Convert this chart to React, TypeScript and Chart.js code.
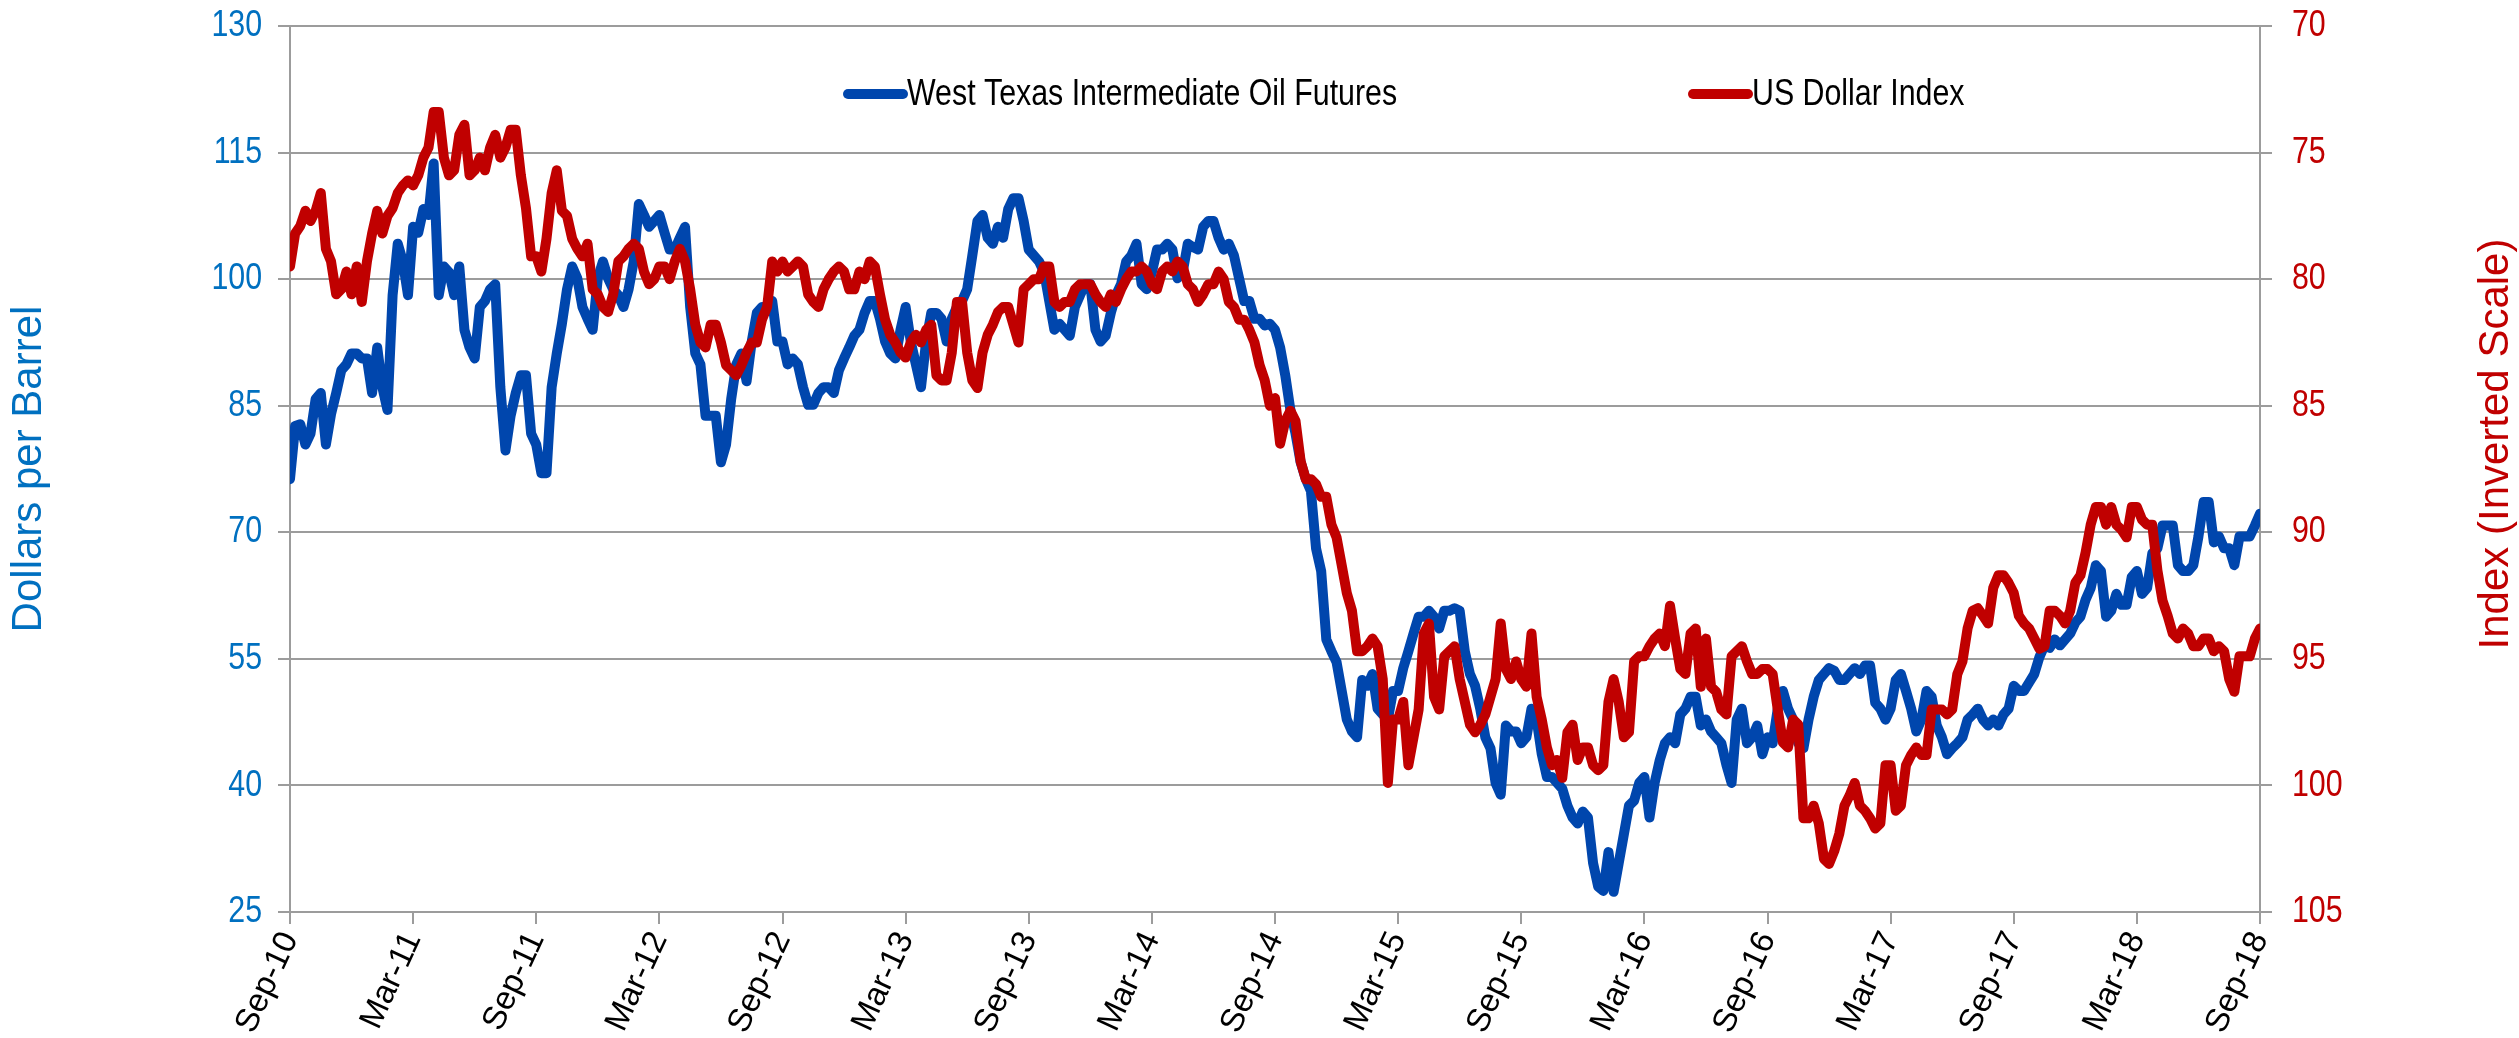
import React, { useEffect, useRef } from "react";
import { Chart, registerables } from "chart.js";

Chart.register(...registerables);

// x-axis tick labels (every 6 months)
const tickLabels = [
  "Sep-10", "Mar-11", "Sep-11", "Mar-12", "Sep-12", "Mar-13", "Sep-13", "Mar-14",
  "Sep-14", "Mar-15", "Sep-15", "Mar-16", "Sep-16", "Mar-17", "Sep-17", "Mar-18", "Sep-18",
];

// one observation every quarter month (roughly weekly), Sep-10 .. Sep-18
const MONTHS_PER_OBS = 0.25;

// West Texas Intermediate Oil Futures, dollars per barrel
const wti = [
  76.3, 82.6, 82.8, 80.4, 81.7, 85.8, 86.5, 80.4, 84.0, 86.5, 89.2, 89.9,
  91.2, 91.2, 90.6, 90.6, 86.5, 91.9, 87.2, 84.5, 98.1, 104.2, 102.1, 98.1,
  106.2, 105.5, 108.3, 107.6, 113.7, 98.1, 101.5, 100.8, 98.1, 101.5, 94.0, 91.9,
  90.6, 96.7, 97.4, 98.8, 99.4, 87.2, 79.7, 83.8, 86.5, 88.6, 88.6, 81.7,
  80.4, 77.0, 77.0, 87.2, 91.2, 94.7, 98.8, 101.5, 100.1, 96.7, 95.3, 94.0,
  100.1, 102.1, 100.1, 98.8, 98.1, 96.7, 98.8, 102.1, 108.9, 107.6, 106.2, 106.9,
  107.6, 105.5, 103.5, 103.5, 104.9, 106.2, 96.7, 91.2, 89.9, 83.8, 83.8, 83.8,
  78.3, 80.4, 85.8, 89.9, 91.2, 87.9, 92.6, 96.0, 96.7, 96.7, 97.4, 92.6,
  92.6, 89.9, 90.6, 89.9, 87.2, 85.1, 85.1, 86.5, 87.2, 87.2, 86.5, 89.2,
  90.6, 91.9, 93.3, 94.0, 96.0, 97.4, 97.4, 95.3, 92.6, 91.2, 90.6, 94.0,
  96.7, 92.6, 89.9, 87.2, 92.6, 96.0, 96.0, 95.3, 92.6, 95.3, 96.7, 97.4,
  98.8, 102.8, 106.9, 107.6, 104.9, 104.2, 106.2, 104.9, 108.3, 109.6, 109.6, 106.9,
  103.5, 102.8, 102.1, 100.8, 97.4, 94.0, 94.7, 94.0, 93.3, 96.7, 98.1, 99.4,
  99.4, 94.0, 92.6, 93.3, 96.0, 98.1, 99.4, 102.1, 102.8, 104.2, 99.4, 98.8,
  100.8, 103.5, 103.5, 104.2, 103.5, 100.1, 100.8, 104.2, 103.8, 103.5, 106.2, 106.9,
  106.9, 104.9, 103.5, 104.2, 102.8, 100.1, 97.4, 97.4, 95.3, 95.3, 94.5, 94.7,
  94.0, 91.9, 88.6, 84.5, 81.7, 78.3, 76.3, 74.9, 68.1, 65.4, 57.3, 55.9,
  54.6, 51.2, 47.8, 46.4, 45.7, 52.5, 51.8, 53.2, 49.1, 48.4, 47.8, 51.2,
  51.2, 53.9, 55.9, 58.0, 60.0, 60.0, 60.7, 60.0, 58.6, 60.7, 60.7, 61.0,
  60.7, 55.9, 53.2, 51.8, 49.1, 45.7, 44.4, 40.3, 38.9, 47.1, 46.4, 46.4,
  45.0, 45.7, 49.1, 47.8, 43.7, 41.0, 41.0, 40.3, 39.6, 37.6, 36.2, 35.5,
  36.9, 36.2, 30.8, 28.0, 27.5, 32.1, 27.4, 30.8, 34.2, 37.6, 38.2, 40.3,
  41.0, 36.2, 40.3, 43.0, 45.0, 45.7, 45.0, 48.4, 49.1, 50.5, 50.5, 47.1,
  47.8, 46.4, 45.7, 45.0, 42.4, 40.3, 47.8, 49.1, 45.0, 45.7, 47.1, 43.7,
  45.7, 45.0, 49.1, 51.2, 49.1, 47.8, 45.0, 44.4, 47.8, 50.5, 52.5, 53.2,
  53.9, 53.6, 52.5, 52.5, 53.2, 53.9, 53.2, 54.2, 54.2, 49.8, 49.1, 47.8,
  49.1, 52.5, 53.2, 51.2, 49.1, 46.4, 47.8, 51.2, 50.5, 47.1, 45.7, 43.7,
  44.4, 45.0, 45.7, 47.8, 48.4, 49.1, 47.8, 47.1, 47.8, 47.1, 48.4, 49.1,
  51.8, 51.2, 51.2, 52.2, 53.2, 55.2, 56.6, 56.3, 57.3, 56.6, 57.3, 58.0,
  59.3, 60.0, 62.0, 63.4, 66.1, 65.4, 60.0, 60.7, 62.7, 61.4, 61.4, 64.7,
  65.4, 62.7, 63.4, 67.5, 68.1, 70.8, 70.8, 70.8, 66.1, 65.4, 65.4, 66.1,
  69.5, 73.6, 73.6, 68.8, 69.5, 68.1, 68.1, 66.1, 69.5, 69.5, 69.5, 70.8,
  72.2,
];

// US Dollar Index (plotted on inverted right scale)
const usd = [
  79.5, 78.2, 77.9, 77.3, 77.7, 77.3, 76.6, 78.8, 79.3, 80.6, 80.4, 79.7,
  80.6, 79.5, 80.9, 79.3, 78.2, 77.3, 78.2, 77.5, 77.2, 76.6, 76.3, 76.1,
  76.3, 75.9, 75.2, 74.8, 73.4, 73.4, 75.2, 75.9, 75.7, 74.3, 73.9, 75.9,
  75.7, 75.2, 75.7, 74.8, 74.3, 75.2, 74.8, 74.1, 74.1, 75.9, 77.2, 79.1,
  79.1, 79.7, 78.4, 76.6, 75.7, 77.3, 77.5, 78.4, 78.8, 79.1, 78.6, 80.4,
  80.6, 81.1, 81.3, 80.6, 79.3, 79.1, 78.8, 78.6, 78.8, 79.7, 80.2, 80.0,
  79.5, 79.5, 80.0, 79.3, 78.8, 79.3, 80.4, 81.8, 82.5, 82.7, 81.8, 81.8,
  82.5, 83.4, 83.6, 83.8, 83.4, 82.9, 82.5, 82.5, 81.6, 81.1, 79.3, 79.7,
  79.3, 79.7, 79.5, 79.3, 79.5, 80.6, 80.9, 81.1, 80.4, 80.0, 79.7, 79.5,
  79.7, 80.4, 80.4, 79.7, 80.0, 79.3, 79.5, 80.6, 81.6, 82.2, 82.5, 82.9,
  83.1, 82.5, 82.2, 82.5, 82.0, 81.8, 83.8, 84.0, 84.0, 82.9, 80.9, 80.9,
  82.9, 84.0, 84.3, 82.9, 82.2, 81.8, 81.3, 81.1, 81.1, 81.8, 82.5, 80.4,
  80.2, 80.0, 80.0, 79.5, 79.5, 80.9, 81.1, 80.9, 80.9, 80.4, 80.2, 80.2,
  80.2, 80.6, 80.9, 81.1, 80.6, 80.9, 80.4, 80.0, 79.7, 79.7, 79.5, 79.7,
  80.2, 80.4, 79.7, 79.5, 79.7, 79.3, 79.5, 80.2, 80.4, 80.9, 80.6, 80.2,
  80.2, 79.7, 80.0, 80.9, 81.1, 81.6, 81.6, 82.0, 82.5, 83.4, 84.0, 85.0,
  84.7, 86.5, 85.6, 85.2, 85.6, 87.2, 87.9, 87.9, 88.1, 88.6, 88.6, 89.7,
  90.2, 91.3, 92.4, 93.1, 94.7, 94.7, 94.5, 94.2, 94.5, 95.8, 99.9, 97.4,
  97.4, 96.7, 99.2, 98.1, 97.0, 94.0, 93.6, 96.5, 97.0, 94.9, 94.7, 94.5,
  95.8, 96.7, 97.6, 97.9, 97.6, 97.2, 96.5, 95.8, 93.6, 95.4, 95.8, 95.1,
  95.8, 96.1, 94.0, 96.5, 97.4, 98.5, 99.2, 99.0, 99.7, 97.9, 97.6, 99.0,
  98.5, 98.5, 99.2, 99.4, 99.2, 96.7, 95.8, 96.7, 98.1, 97.9, 95.1, 94.9,
  94.9, 94.5, 94.2, 94.0, 94.5, 92.9, 94.2, 95.4, 95.6, 94.0, 93.8, 96.1,
  94.2, 96.1, 96.3, 97.0, 97.2, 94.9, 94.7, 94.5, 95.1, 95.6, 95.6, 95.4,
  95.4, 95.6, 97.0, 98.3, 98.5, 97.4, 97.6, 101.3, 101.3, 100.8, 101.5, 102.9,
  103.1, 102.6, 101.9, 100.8, 100.4, 99.9, 100.8, 101.0, 101.3, 101.7, 101.5, 99.2,
  99.2, 101.0, 100.8, 99.2, 98.8, 98.5, 98.8, 98.8, 97.0, 97.0, 97.0, 97.2,
  97.0, 95.6, 95.1, 93.8, 93.1, 93.0, 93.3, 93.6, 92.2, 91.7, 91.7, 92.0,
  92.4, 93.3, 93.6, 93.8, 94.2, 94.6, 94.5, 93.1, 93.1, 93.3, 93.6, 93.1,
  92.0, 91.7, 90.8, 89.7, 89.0, 89.0, 89.7, 89.0, 89.7, 89.9, 90.2, 89.0,
  89.0, 89.5, 89.7, 89.7, 91.5, 92.7, 93.3, 94.0, 94.2, 93.8, 94.0, 94.5,
  94.5, 94.2, 94.2, 94.7, 94.5, 94.7, 95.8, 96.3, 94.9, 94.9, 94.9, 94.2,
  93.8,
];

const seriesNames = ["West Texas Intermediate Oil Futures", "US Dollar Index"];
const leftTitle = "Dollars per Barrel";
const rightTitle = "Index (Inverted Scale)";

const W = 2519;
const H = 1038;
const PLOT_LEFT = 290;
const PLOT_RIGHT = 2260;
const PLOT_TOP = 26;
const PLOT_BOTTOM = 912;

const REGULAR = "'Liberation Sans', Arial, sans-serif";
const NARROW_SCALE = 0.82; // emulate Arial Narrow
const BLUE_LINE = "#0046AD";
const RED_LINE = "#C00000";
const BLUE_TEXT = "#0070C0";
const RED_TEXT = "#C00000";
const GRID = "#9c9c9c";

function narrowText(ctx: any, text: string, x: number, y: number, align: string, size: number, color: string) {
  ctx.save();
  ctx.translate(x, y);
  ctx.scale(NARROW_SCALE, 1);
  ctx.font = `${size}px ${REGULAR}`;
  ctx.fillStyle = color;
  ctx.textAlign = align;
  ctx.textBaseline = "middle";
  ctx.fillText(text, 0, 0);
  ctx.restore();
}

const overlayPlugin = {
  id: "overlay",
  afterDraw(chart: any) {
    const ctx = chart.ctx;
    const area = chart.chartArea;
    // y tick labels (narrow font)
    const ys = chart.scales.y;
    for (const t of ys.ticks) {
      narrowText(ctx, String(t.value), area.left - 12 - 16, ys.getPixelForValue(t.value), "right", 37, BLUE_TEXT);
    }
    const y1 = chart.scales.y1;
    for (const t of y1.ticks) {
      narrowText(ctx, String(t.value), area.right + 12 + 20, y1.getPixelForValue(t.value), "left", 37, RED_TEXT);
    }
    // legend
    const ly = 94;
    const items = [
      { x: 848, color: BLUE_LINE, text: seriesNames[0] },
      { x: 1693, color: RED_LINE, text: seriesNames[1] },
    ];
    ctx.save();
    for (const it of items) {
      ctx.strokeStyle = it.color;
      ctx.lineWidth = 10;
      ctx.lineCap = "round";
      ctx.beginPath();
      ctx.moveTo(it.x, ly);
      ctx.lineTo(it.x + 55, ly);
      ctx.stroke();
    }
    ctx.restore();
    for (const it of items) narrowText(ctx, it.text, it.x + 59, ly + 1, "left", 37, "#000");
    // right axis title (reads bottom-to-top)
    ctx.save();
    ctx.translate(2496, 444);
    ctx.rotate(-Math.PI / 2);
    ctx.font = `42px ${REGULAR}`;
    ctx.fillStyle = RED_TEXT;
    ctx.textAlign = "center";
    ctx.textBaseline = "middle";
    ctx.fillText(rightTitle, 0, 0);
    ctx.restore();
  },
};

export default function App() {
  const ref = useRef<HTMLCanvasElement | null>(null);

  useEffect(() => {
    if (!ref.current) return;
    const chart = new Chart(ref.current, {
      type: "line",
      data: {
        datasets: [
          {
            label: seriesNames[1],
            data: usd.map((v, i) => ({ x: i * MONTHS_PER_OBS, y: v })),
            yAxisID: "y1",
            borderColor: RED_LINE,
            backgroundColor: RED_LINE,
            borderWidth: 10,
            pointRadius: 0,
            tension: 0,
            borderJoinStyle: "round",
            borderCapStyle: "round",
            order: 0,
          },
          {
            label: seriesNames[0],
            data: wti.map((v, i) => ({ x: i * MONTHS_PER_OBS, y: v })),
            yAxisID: "y",
            borderColor: BLUE_LINE,
            backgroundColor: BLUE_LINE,
            borderWidth: 10,
            pointRadius: 0,
            tension: 0,
            borderJoinStyle: "round",
            borderCapStyle: "round",
            order: 1,
          },
        ],
      },
      options: {
        responsive: false,
        animation: false,
        devicePixelRatio: 1,
        layout: { padding: { top: PLOT_TOP, left: 0, right: 0, bottom: 0 } },
        plugins: {
          legend: { display: false },
          tooltip: { enabled: false },
        },
        scales: {
          x: {
            type: "linear",
            min: 0,
            max: (tickLabels.length - 1) * 6,
            afterFit: (s: any) => {
              s.height = H - PLOT_BOTTOM;
            },
            afterBuildTicks: (s: any) => {
              s.ticks = tickLabels.map((_, i) => ({ value: i * 6 }));
            },
            ticks: {
              autoSkip: false,
              minRotation: 65,
              maxRotation: 65,
              padding: 2,
              color: "#000",
              font: { family: REGULAR, size: 33 },
              callback: (v: any) => tickLabels[Math.round(Number(v) / 6)] ?? "",
            },
            grid: {
              drawOnChartArea: false,
              drawTicks: true,
              tickLength: 12,
              color: GRID,
              lineWidth: 2,
            },
            border: { display: true, color: GRID, width: 2 },
          },
          y: {
            position: "left",
            min: 25,
            max: 130,
            afterFit: (s: any) => {
              s.width = PLOT_LEFT;
            },
            ticks: { stepSize: 15, display: false },
            grid: { color: GRID, lineWidth: 2, tickLength: 12, drawTicks: true },
            border: { display: true, color: GRID, width: 2 },
            title: {
              display: true,
              text: leftTitle,
              color: BLUE_TEXT,
              font: { family: REGULAR, size: 42 },
              padding: { top: 4, bottom: 0 },
            },
          },
          y1: {
            position: "right",
            reverse: true,
            min: 70,
            max: 105,
            afterFit: (s: any) => {
              s.width = W - PLOT_RIGHT;
            },
            ticks: { stepSize: 5, display: false },
            grid: {
              drawOnChartArea: false,
              drawTicks: true,
              tickLength: 12,
              color: GRID,
              lineWidth: 2,
            },
            border: { display: true, color: GRID, width: 2 },
          },
        },
      },
      plugins: [overlayPlugin],
    } as any);
    return () => chart.destroy();
  }, []);

  return (
    <div style={{ position: "fixed", left: 0, top: 0, width: W, height: H, background: "#fff" }}>
      <canvas ref={ref} width={W} height={H} style={{ display: "block", width: W, height: H }} />
    </div>
  );
}
